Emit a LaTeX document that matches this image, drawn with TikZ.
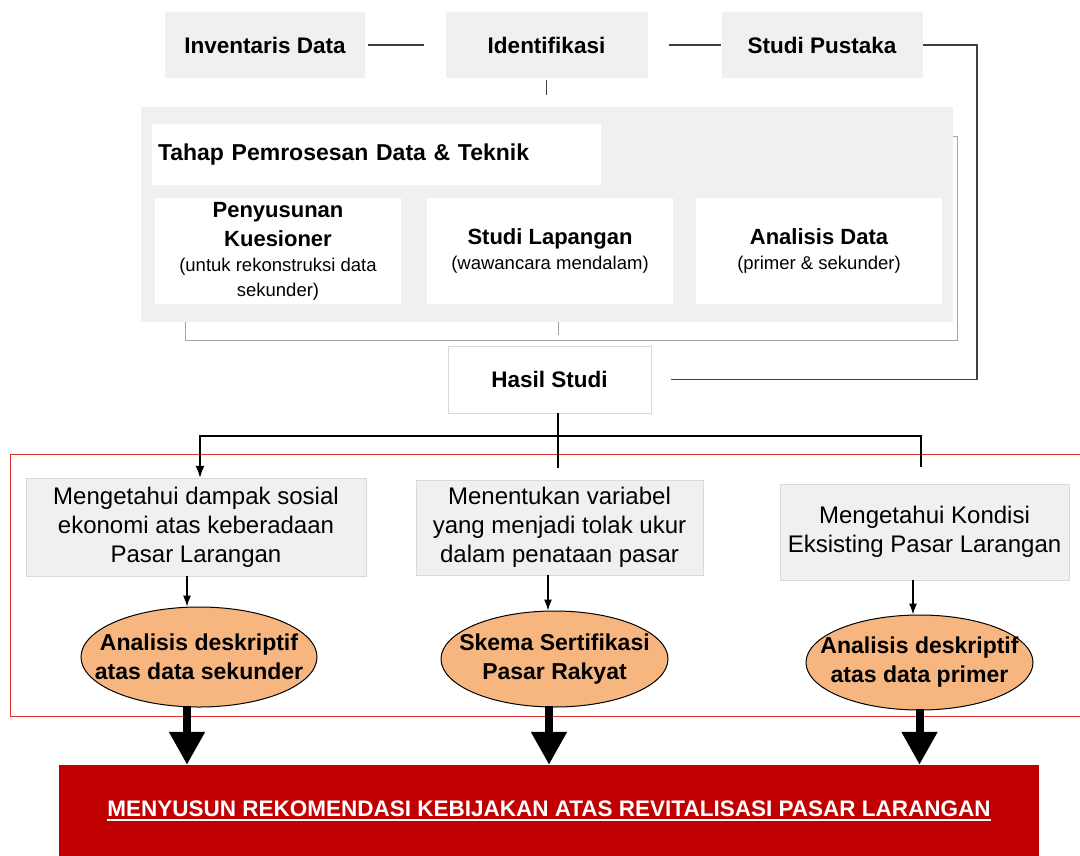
\documentclass[tikz,border=0pt]{standalone}
\usepackage{fontspec}
\setmainfont{Liberation Sans}
\usetikzlibrary{shapes.geometric,arrows.meta}

\definecolor{boxgray}{HTML}{F0F0F0}
\definecolor{boxline}{HTML}{D9D9D9}
\definecolor{framegray}{HTML}{A6A6A6}
\definecolor{linegray}{HTML}{404040}
\definecolor{ovalfill}{HTML}{F7B57F}
\definecolor{recred}{HTML}{C00000}
\definecolor{zonered}{HTML}{E0302E}

\newcommand{\stagehead}{\fontsize{22}{29}\selectfont\bfseries\spaceskip=.278em\relax}
\newcommand{\stagenote}{\fontsize{18.5}{25}\selectfont\mdseries\spaceskip=.278em\relax}
\newcommand{\ulinebox}[1]{\setbox0\hbox{#1}\rlap{\copy0}\rule[-4pt]{\wd0}{1.6pt}}

\tikzset{
  topbox/.style={fill=boxgray, minimum width=200pt, minimum height=66pt,
    font=\fontsize{22.5}{27}\selectfont\bfseries},
  subbox/.style={fill=white, minimum width=246pt, minimum height=106pt,
    text width=240pt, align=center, inner sep=3pt},
  goalbox/.style={fill=boxgray, draw=boxline, align=center,
    font=\fontsize{24}{29}\selectfont},
  oval/.style={ellipse, draw=black, fill=ovalfill, line width=1pt, inner sep=0pt},
  ovaltext/.style={align=center, font=\fontsize{23}{29}\selectfont\bfseries},
  link/.style={draw=linegray, line width=1.3pt},
  flow/.style={draw=black, line width=1.2pt},
  bigarrow/.style={line width=8pt, -{Triangle[length=33pt,width=34pt]}},
}

\begin{document}
\begin{tikzpicture}[x=1pt,y=-1pt]
  \useasboundingbox (0,0) rectangle (1080,855);

  % top row
  \node[topbox] (inv) at (265,45) {Inventaris Data};
  \node[topbox, minimum width=202pt] (idf) at (546.5,45) {Identifikasi};
  \node[topbox, minimum width=201pt] (stp) at (822,45) {Studi Pustaka};

  % processing stage
  \node[draw=framegray, line width=1pt, minimum width=772pt, minimum height=204pt] (frame) at (571,238) {};
  \node[fill=boxgray, minimum width=812pt, minimum height=215pt] (panel) at (547,214.5) {};
  \node[fill=white, text width=437pt, minimum height=61pt, inner sep=6pt, align=left,
    font=\fontsize{23}{27}\selectfont\bfseries] (tahap) at (376.5,154.5) {Tahap Pemrosesan Data \& Teknik};
  \node[subbox] (pk) at (278,251) {\stagehead Penyusunan\\Kuesioner\par\stagenote (untuk rekonstruksi data\\sekunder)\par};
  \node[subbox] (sl) at (550,251) {\stagehead Studi Lapangan\par\stagenote (wawancara mendalam)\par};
  \node[subbox] (ad) at (819,251) {\stagehead Analisis Data\par\stagenote (primer \& sekunder)\par};

  \node[draw=boxline, fill=white, minimum width=203pt, minimum height=67pt,
    font=\fontsize{22.5}{27}\selectfont\bfseries] (hs) at (549.5,379.5) {Hasil Studi};

  % output zone
  \draw[zonered, line width=1pt] (10,454) rectangle (1090,716);
  \node[goalbox, minimum width=340pt, minimum height=98pt] (ma) at (196,527)
    {Mengetahui dampak sosial\\ekonomi atas keberadaan\\Pasar Larangan};
  \node[goalbox, minimum width=287pt, minimum height=95pt] (mv) at (559.5,527.5)
    {Menentukan variabel\\yang menjadi tolak ukur\\dalam penataan pasar};
  \node[goalbox, minimum width=289pt, minimum height=96pt] (mk) at (924.5,532)
    {Mengetahui Kondisi\\Eksisting Pasar Larangan};

  \node[oval, minimum width=236pt, minimum height=100pt] (e1) at (199,657) {};
  \node[ovaltext] (e1t) at (e1) {Analisis deskriptif\\atas data sekunder};
  \node[oval, minimum width=227pt, minimum height=96pt] (e2) at (554.5,659) {};
  \node[ovaltext] (e2t) at (e2) {Skema Sertifikasi\\Pasar Rakyat};
  \node[oval, minimum width=227pt, minimum height=95pt] (e3) at (919.5,662.5) {};
  \node[ovaltext] (e3t) at (e3) {Analisis deskriptif\\atas data primer};

  \node[fill=recred, minimum width=980pt, minimum height=92pt, text=white,
    font=\fontsize{22.5}{27}\selectfont\bfseries] (rb) at (549,811)
    {\ulinebox{MENYUSUN REKOMENDASI KEBIJAKAN ATAS REVITALISASI PASAR LARANGAN}};

  % connectors, top part
  \coordinate (turn) at (977,45);
  \coordinate (pj) at (558,322);
  \coordinate (split) at (558,436);
  \draw[link, shorten <=3pt, shorten >=21pt] (inv.east) -- (idf.west);
  \draw[link, shorten <=21pt] (idf.east) -- (stp.west);
  \draw[link, shorten <=2pt, shorten >=12pt] (idf.south) -- (panel.north -| idf.south);
  \draw[link, shorten >=20pt] (stp.east) -- (turn) |- (hs.east);
  \draw[framegray, line width=1pt, shorten >=11pt] (pj) -- (pj |- hs.north);

  % connectors, lower part
  \draw[flow, shorten >=12pt] (hs.south -| split) -- (split) -- (mv.north -| split);
  \draw[flow, -{Latex[length=12pt,width=9pt]}] (split) -| ([xshift=4pt]ma.north);
  \draw[flow, shorten >=17pt] (split) -| ([xshift=-3.5pt]mk.north);
  \draw[flow, -{Latex[length=11pt,width=8pt]}] ([xshift=-9pt]ma.south) -- ([xshift=-9pt]ma.south |- e1.north);
  \draw[flow, -{Latex[length=11pt,width=8pt]}] ([xshift=-11.5pt]mv.south) -- ([xshift=-11.5pt]mv.south |- e2.north);
  \draw[flow, -{Latex[length=11pt,width=8pt]}] ([xshift=-11.5pt]mk.south) -- ([xshift=-11.5pt]mk.south |- e3.north);

  \draw[bigarrow] ([xshift=-12pt,yshift=2pt]e1.south) -- ([xshift=-12pt]e1.south |- rb.north);
  \draw[bigarrow] ([xshift=-5.5pt,yshift=2pt]e2.south) -- ([xshift=-5.5pt]e2.south |- rb.north);
  \draw[bigarrow] ([yshift=2pt]e3.south) -- (e3.south |- rb.north);
\end{tikzpicture}
\end{document}
